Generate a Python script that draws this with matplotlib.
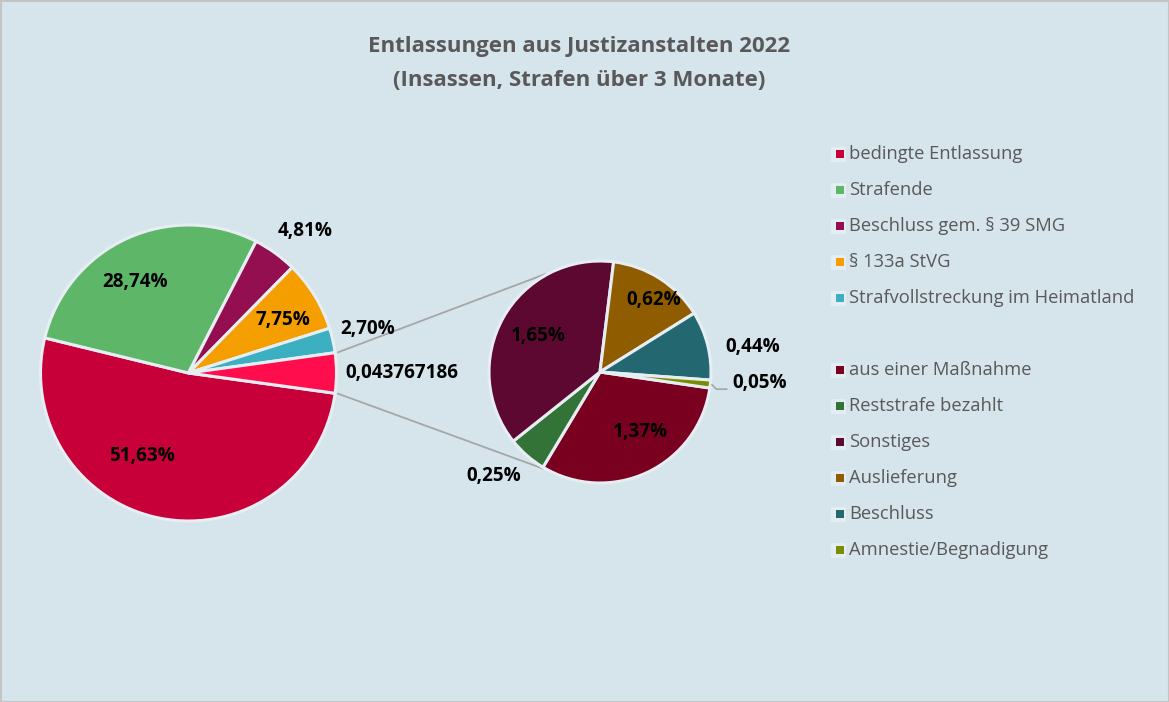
import numpy as np
import matplotlib
matplotlib.use("Agg")
import matplotlib.pyplot as plt
from matplotlib.patches import Rectangle

# ---------------- data ----------------
title = "Entlassungen aus Justizanstalten 2022\n(Insassen, Strafen über 3 Monate)"
main_labels = ["bedingte Entlassung", "Strafende", "Beschluss gem. § 39 SMG",
               "§ 133a StVG", "Strafvollstreckung im Heimatland"]
main_values = [51.63, 28.74, 4.81, 7.75, 2.70]
other_share = 0.043767186           # "Andere" (shown as raw value in chart)
sec_labels = ["aus einer Maßnahme", "Reststrafe bezahlt", "Sonstiges",
              "Auslieferung", "Beschluss", "Amnestie/Begnadigung"]
sec_values = [1.37, 0.25, 1.65, 0.62, 0.44, 0.05]

# ---------------- style ----------------
main_colors = ["#C8003A", "#5EB768", "#940F4F", "#F59E00", "#3CAFC1"]
other_color = "#FF0D4D"
sec_colors = ["#7A0020", "#337338", "#5C0830", "#8F5C00", "#236870", "#7A8C00"]
BG = "#D6E4EC"
EDGE = "#E6EEF3"
TXT = "#595959"
FONT = ["Open Sans", "DejaVu Sans"]
plt.rcParams["font.family"] = FONT

W, H = 1169, 702
fig = plt.figure(figsize=(W / 100, H / 100), dpi=100, facecolor=BG)
ax = fig.add_axes([0, 0, 1, 1])
ax.set_facecolor(BG)

def Y(y):
    return H - y

main_c = (188.5, Y(373)); R1 = 148
sec_c = (600, Y(372)); R2 = 111

vals1 = main_values + [other_share * 100]
other_deg = vals1[-1] / sum(vals1) * 360
w1, _ = ax.pie(vals1, colors=main_colors + [other_color], center=main_c, radius=R1,
               startangle=-other_deg / 2, counterclock=False,
               wedgeprops=dict(edgecolor=EDGE, linewidth=2.2), frame=True)
w2, _ = ax.pie(sec_values, colors=sec_colors, center=sec_c, radius=R2,
               startangle=-8.3, counterclock=False,
               wedgeprops=dict(edgecolor=EDGE, linewidth=2.2), frame=True)

ax.set_xlim(0, W)
ax.set_ylim(0, H)
ax.set_aspect("equal")
ax.axis("off")

def pol(c, r, ang):
    a = np.deg2rad(ang)
    return c[0] + r * np.cos(a), c[1] + r * np.sin(a)

def fmt(v):
    return f"{v:.2f}".replace(".", ",") + "%"

lab_kw = dict(fontsize=13.6, fontweight="bold", color="black", ha="center", va="center")

# main pie labels: (distance in radii, angular shift)
main_place = [(0.64, -18.5), (0.71, 6), (1.24, -3.6), (0.73, -2), (1.25, 1.1), (1.44, 0)]
main_texts = [fmt(v) for v in main_values] + [f"{other_share:.9f}".replace(".", ",")]
for w, (d, s), t in zip(w1, main_place, main_texts):
    mid = (w.theta1 + w.theta2) / 2
    x, y = pol(main_c, R1 * d, mid + s)
    ax.text(x, y, t, **lab_kw)

# secondary pie labels
sec_place = [(0.65, 9), (1.34, -4.3), (0.64, -1.3), (0.81, -4.5), (1.39, -4.6), (1.44, 2.3)]
for w, (d, s), v in zip(w2, sec_place, sec_values):
    mid = (w.theta1 + w.theta2) / 2
    x, y = pol(sec_c, R2 * d, mid + s)
    ax.text(x, y, fmt(v), **lab_kw)

# leader line for the tiny slice
wl = w2[-1]
mid = (wl.theta1 + wl.theta2) / 2
x0, y0 = pol(sec_c, R2 * 1.01, mid)
ax.plot([x0, x0 + 5, x0 + 16], [y0, y0 - 5, y0 - 5], color="#A6A6A6", lw=1.2,
        solid_capstyle="butt")

# connector lines between pies
wo = w1[-1]
for ang1, ang2 in [(wo.theta2, 119.0), (wo.theta1, -120.5)]:
    p1 = pol(main_c, R1 * 1.02, ang1)
    p2 = pol(sec_c, R2 * 1.01, ang2)
    ax.plot([p1[0], p2[0]], [p1[1], p2[1]], color="#A6A6A6", lw=1.3, zorder=0.5)

# title
ax.text(579, Y(63.5), title, ha="center", va="center", fontsize=16,
        fontweight="bold", color=TXT, linespacing=1.82)

# legend
rows1 = [154 + 36 * i for i in range(5)]
rows2 = [370 + 36 * i for i in range(6)]
for labels, cols, rows in [(main_labels, main_colors, rows1), (sec_labels, sec_colors, rows2)]:
    for lab, col, yy in zip(labels, cols, rows):
        ax.add_patch(Rectangle((831, Y(yy) - 7.5), 15, 15, facecolor="#E4EDF2",
                               edgecolor="none"))
        ax.add_patch(Rectangle((835.5, Y(yy) - 4), 8, 8, facecolor=col, edgecolor="none"))
        ax.text(849, Y(yy), lab, ha="left", va="center", fontsize=13.2, color=TXT)

# outer border
ax.add_patch(Rectangle((0.5, 0.5), W - 1, H - 1, fill=False, edgecolor="#C4C4C4", lw=1.5))

fig.savefig("out.png", dpi=100, facecolor=BG)
